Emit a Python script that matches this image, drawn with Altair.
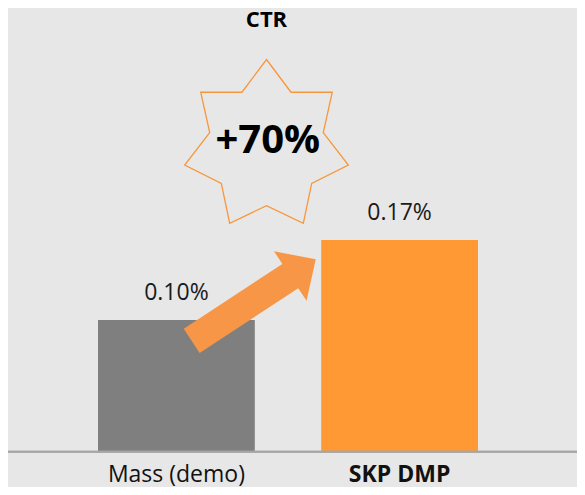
import altair as alt
import pandas as pd

# ---- data ----
categories = ["Mass (demo)", "SKP DMP"]
ctr_values = [0.10, 0.17]
value_labels = ["0.10%", "0.17%"]
label_weights = ["normal", "bold"]
bar_colors = ["#7F7F7F", "#FF9933"]
title_text = "CTR"

lift = (ctr_values[1] - ctr_values[0]) / ctr_values[0]
lift_text = f"+{lift * 100:.0f}%"

df = pd.DataFrame({
    "cat": categories,
    "ctr": ctr_values,
    "label": value_labels,
    "weight": label_weights,
    "color": bar_colors,
})

# ---- styling ----
BG = "#E7E7E7"
FONT = "Open Sans"
Y_BASE = -0.0152
Y_TOP = 0.373
W, H = 569, 479
BASE_PX = 443.7
CAT_Y = 473.5

STAR_PATH = (
    "M0,-1L0.292,-0.61L0.783,-0.61L0.676,-0.129L0.974,0.256L0.538,0.474"
    "L0.438,0.95L0,0.74L-0.438,0.95L-0.538,0.474L-0.974,0.256L-0.676,-0.129"
    "L-0.783,-0.61L-0.292,-0.61Z"
)
ARROW_PATH = "M-1,-0.195L0.59,-0.195L0.59,-0.4L1,0L0.59,0.4L0.59,0.195L-1,0.195Z"

x_enc = alt.X("cat:N", sort=categories, axis=None,
              scale=alt.Scale(range=[90, 470], paddingInner=0.2975, paddingOuter=0))
y_scale = alt.Scale(domain=[Y_BASE, Y_TOP], range=[BASE_PX, 0], nice=False, zero=False)

base = alt.Chart(df)

bars = base.mark_bar().encode(
    x=x_enc,
    y=alt.Y("ctr:Q", scale=y_scale, axis=None),
    y2=alt.datum(Y_BASE),
    color=alt.Color("color:N", scale=None),
)

value_text = base.mark_text(font=FONT, fontSize=23, baseline="alphabetic", dy=-20,
                            color="#1A1A1A").encode(
    x=x_enc,
    y=alt.Y("ctr:Q", scale=y_scale, axis=None),
    text="label:N",
)

cat_text_normal = base.transform_filter(alt.datum.weight == "normal").mark_text(
    font=FONT, fontSize=23, baseline="alphabetic", color="#111111", fontWeight="normal"
).encode(x=x_enc, y=alt.value(CAT_Y), text="cat:N")

cat_text_bold = base.transform_filter(alt.datum.weight == "bold").mark_text(
    font=FONT, fontSize=23, baseline="alphabetic", color="#111111", fontWeight="bold"
).encode(x=x_enc, y=alt.value(CAT_Y), text="cat:N")

baseline_rule = alt.Chart(df).mark_rule(color="#A6A6A6", strokeWidth=2).encode(
    x=alt.value(0), x2=alt.value(W), y=alt.value(BASE_PX)
)

arrow = alt.Chart(pd.DataFrame({"a": [1]})).mark_point(
    shape=ARROW_PATH, filled=True, fill="#F79646", opacity=1,
    size=22022, angle=326.7
).encode(x=alt.value(245.7), y=alt.value(292.1))

star = alt.Chart(pd.DataFrame({"a": [1]})).mark_point(
    shape=STAR_PATH, filled=False, stroke="#F7963C", strokeWidth=1.3, opacity=1,
    size=28224
).encode(x=alt.value(258.5), y=alt.value(135.5))

lift_mark = alt.Chart(pd.DataFrame({"t": [lift_text]})).mark_text(
    font=FONT, fontSize=40, fontWeight="bold", baseline="alphabetic", color="#000000"
).encode(x=alt.value(259.8), y=alt.value(145.3), text="t:N")

title_mark = alt.Chart(pd.DataFrame({"t": [title_text]})).mark_text(
    font=FONT, fontSize=22, fontWeight="bold", baseline="alphabetic", color="#000000"
).encode(x=alt.value(258.5), y=alt.value(19.3), text="t:N")

chart = alt.layer(
    bars, baseline_rule, arrow, star, lift_mark, title_mark, value_text,
    cat_text_normal, cat_text_bold
).properties(
    width=W, height=H, background=BG,
    autosize=alt.AutoSizeParams(type="none"), padding=0,
).configure_view(stroke=None)

chart.save("out.html", embed_options={"renderer": "svg", "actions": False})
